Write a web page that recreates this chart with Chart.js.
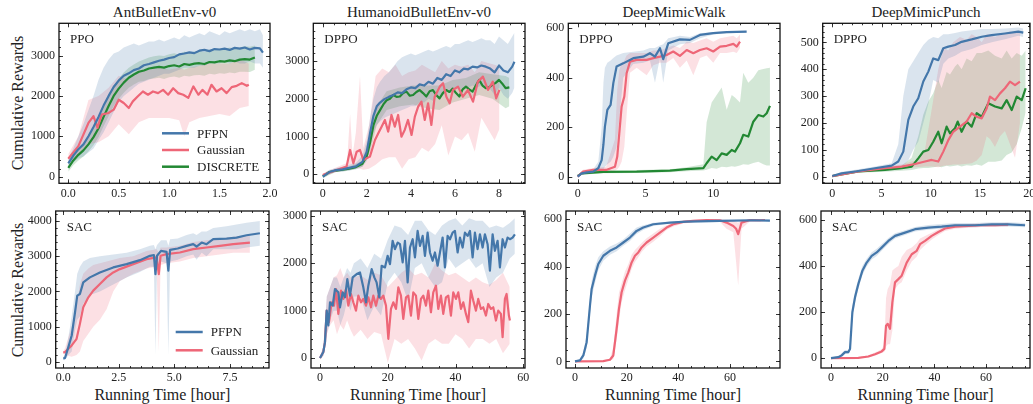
<!DOCTYPE html>
<html>
<head>
<meta charset="utf-8">
<script src="https://cdn.jsdelivr.net/npm/chart.js@4.4.0/dist/chart.umd.min.js"></script>
<style>
  body { margin: 0; background: #fff; width: 1033px; height: 404px; position: relative; overflow: hidden;
         font-family: "Liberation Serif", serif; color: #222; }
  canvas { position: absolute; left: 0; top: 0; }
  .t { position: absolute; white-space: nowrap; line-height: 1; transform: translate(-50%, -50%); }
  .title { font-size: 15px; }
  .xl { font-size: 16px; }
  .yl { font-size: 16px; transform: translate(-50%, -50%) rotate(-90deg); }
</style>
</head>
<body>
<div class="t title" style="left:164.5px;top:12px">AntBulletEnv-v0</div>
<div class="t title" style="left:419px;top:12px">HumanoidBulletEnv-v0</div>
<div class="t title" style="left:674px;top:12px">DeepMimicWalk</div>
<div class="t title" style="left:926px;top:12px">DeepMimicPunch</div>
<div class="t yl" style="left:18.4px;top:103.3px">Cumulative Rewards</div>
<div class="t yl" style="left:18.4px;top:289.5px">Cumulative Rewards</div>
<div class="t xl" style="left:162.4px;top:395.2px">Running Time [hour]</div>
<div class="t xl" style="left:418px;top:395.2px">Running Time [hour]</div>
<div class="t xl" style="left:673px;top:395.2px">Running Time [hour]</div>
<div class="t xl" style="left:925.5px;top:395.2px">Running Time [hour]</div>

<canvas id="c1" width="1033" height="404"></canvas>
<canvas id="c2" width="1033" height="404"></canvas>
<canvas id="c3" width="1033" height="404"></canvas>
<canvas id="c4" width="1033" height="404"></canvas>
<canvas id="c5" width="1033" height="404"></canvas>
<canvas id="c6" width="1033" height="404"></canvas>
<canvas id="c7" width="1033" height="404"></canvas>
<canvas id="c8" width="1033" height="404"></canvas>

<script>
// ---- AntBulletEnv-v0 / PPO ----
var antPpoPfpnX = [0,0.05,0.1,0.15,0.2,0.25,0.3,0.35,0.4,0.45,0.5,0.55,0.6,0.65,0.7,0.75,0.8,0.85,0.9,0.95,1.0,1.05,1.1,1.15,1.2,1.25,1.3,1.35,1.4,1.45,1.5,1.55,1.6,1.65,1.7,1.75,1.8,1.85,1.9,1.93];
var antPpoPfpn   = [330,520,680,800,1000,1230,1480,1760,2000,2220,2380,2500,2560,2640,2680,2760,2790,2830,2870,2900,2940,2960,3030,3050,3080,3060,3120,3140,3110,3160,3150,3170,3140,3190,3170,3200,3150,3190,3180,3070];
var antPpoPfpnHi = [450,700,1000,1300,1650,2000,2400,2700,2900,3050,3100,3200,3250,3300,3250,3300,3350,3350,3400,3350,3400,3450,3400,3500,3450,3500,3550,3500,3600,3550,3500,3600,3550,3600,3650,3600,3650,3600,3650,3500];
var antPpoPfpnLo = [200,350,450,500,600,700,900,1100,1350,1600,1850,2000,2100,2200,2300,2350,2400,2450,2500,2550,2550,2600,2650,2700,2700,2700,2750,2750,2800,2800,2800,2850,2800,2850,2800,2800,2850,2800,2800,2700];
var antPpoGaussX = [0,0.1,0.2,0.25,0.29,0.33,0.4,0.45,0.5,0.55,0.6,0.64,0.69,0.74,0.79,0.84,0.89,0.94,0.99,1.04,1.09,1.14,1.19,1.24,1.29,1.33,1.38,1.42,1.47,1.52,1.57,1.62,1.67,1.72,1.77,1.79];
var antPpoGauss  = [444,756,1330,1500,1208,1537,1578,1660,1906,1824,1700,1865,1990,2110,2030,2110,2070,2150,2030,2190,2070,2030,1950,2235,2030,2150,2030,2276,2110,2190,2070,2218,2250,2317,2250,2276];
var antPpoGaussBX = [0,0.1,0.2,0.3,0.4,0.5,0.6,0.7,0.8,0.9,1.0,1.1,1.15,1.2,1.3,1.4,1.5,1.6,1.7,1.79];
var antPpoGaussHi = [560,1000,1900,2000,2200,2500,2400,2650,2650,2700,2650,2700,2650,2700,2750,2800,2800,2800,2900,2800];
var antPpoGaussLo = [330,550,800,850,1000,1300,1050,1350,1450,1450,1450,1400,1000,1350,1450,1500,1550,1500,1700,1750];
var antPpoDiscX = [0,0.05,0.1,0.15,0.2,0.25,0.3,0.35,0.4,0.45,0.5,0.55,0.6,0.65,0.7,0.75,0.8,0.85,0.9,0.95,1.0,1.05,1.1,1.15,1.2,1.25,1.3,1.35,1.4,1.45,1.5,1.55,1.6,1.65,1.7,1.75,1.8,1.85];
var antPpoDisc   = [220,400,540,650,800,980,1200,1480,1750,2000,2180,2330,2450,2530,2600,2630,2680,2700,2720,2700,2740,2760,2730,2790,2770,2800,2810,2790,2840,2830,2860,2850,2880,2860,2900,2910,2900,2950];
var antPpoDiscHi = [330,520,680,800,980,1180,1420,1700,1980,2250,2430,2580,2700,2780,2850,2900,2950,2980,3000,2990,3030,3060,3020,3100,3060,3100,3120,3090,3150,3140,3170,3160,3200,3170,3200,3230,3220,3250];
var antPpoDiscLo = [120,280,400,500,620,780,980,1250,1500,1750,1930,2080,2200,2280,2350,2370,2420,2430,2450,2420,2460,2480,2450,2500,2480,2510,2520,2500,2550,2530,2560,2550,2580,2560,2600,2600,2590,2650];

// ---- HumanoidBulletEnv-v0 / DPPO ----
var humDppoPfpnX = [0,0.3,0.6,0.9,1.2,1.5,1.8,2.0,2.15,2.3,2.45,2.6,2.8,3.0,3.2,3.4,3.6,3.8,4.0,4.2,4.4,4.6,4.8,5.0,5.2,5.4,5.6,5.8,6.0,6.2,6.4,6.6,6.8,7.0,7.2,7.4,7.6,7.8,8.0,8.2,8.4,8.6,8.7];
var humDppoPfpn   = [-60,60,110,130,170,210,330,600,1100,1550,1800,1900,1990,2050,2100,2170,2150,2250,2300,2280,2380,2350,2450,2400,2550,2500,2650,2600,2750,2700,2800,2780,2850,2830,2880,2850,2800,2700,2880,2750,2700,2850,2980];
var humDppoPfpnHi = [0,120,170,200,250,300,500,900,1500,2000,2300,2450,2600,2700,2850,3000,3100,3150,3200,3150,3200,3250,3300,3250,3300,3350,3400,3350,3450,3450,3500,3550,3500,3550,3600,3550,3550,3450,3650,3550,3450,3650,3750];
var humDppoPfpnLo = [-120,0,60,70,100,130,200,350,700,1100,1300,1400,1500,1550,1600,1650,1700,1750,1800,1800,1900,1900,2000,1950,2100,2050,2200,2150,2300,2250,2300,2300,2350,2300,2350,2300,2250,2100,2300,2100,2000,2150,2300];
var humDppoGaussX = [0,0.63,1.08,1.24,1.39,1.54,1.69,1.84,2.14,2.37,2.52,2.67,2.82,2.97,3.12,3.27,3.42,3.57,3.72,3.87,4.03,4.18,4.33,4.48,4.63,4.78,4.93,5.08,5.31,5.46,5.61,5.76,5.91,6.14,6.36,6.59,6.82,7.04,7.27,7.5,7.72,7.87,8.02];
var humDppoGauss  = [-18,115,203,644,291,600,644,380,468,909,1085,1262,1439,1130,1571,1262,1571,997,1174,1439,1041,1527,1792,1924,1439,1880,1306,2056,2321,2410,2056,1880,2233,2321,2056,2233,1924,2454,2586,2233,2454,2012,2233];
var humDppoGaussBX = [0,0.6,1.1,1.24,1.35,1.5,1.69,1.84,2.1,2.4,2.7,3.0,3.3,3.6,3.9,4.2,4.5,4.8,5.1,5.4,5.7,6.0,6.3,6.6,6.9,7.2,7.5,7.8,8.02];
var humDppoGaussHi = [20,180,300,1600,500,1100,2600,700,1300,2600,2800,2700,2900,2600,2700,2750,2900,2800,2700,3000,2800,2900,2850,2900,2700,3000,2950,2900,2850];
var humDppoGaussLo = [-60,60,110,200,120,150,150,120,150,250,400,450,450,150,400,450,700,600,800,1300,500,1000,900,1100,600,1500,1200,900,1200];
var humDppoDiscX = [0,0.3,0.6,0.9,1.2,1.5,1.8,2.0,2.15,2.3,2.45,2.6,2.75,2.9,3.05,3.2,3.35,3.5,3.65,3.8,3.95,4.1,4.25,4.4,4.55,4.7,4.85,5.0,5.15,5.3,5.45,5.6,5.75,5.9,6.05,6.2,6.35,6.5,6.65,6.8,6.95,7.1,7.25,7.4,7.55,7.7,7.85,8.0,8.15,8.3,8.47];
var humDppoDisc   = [-50,60,100,120,150,190,280,480,850,1300,1550,1700,1850,1960,2000,2100,2050,2060,2150,2190,2080,2100,2180,2230,2150,2060,2200,2230,2100,2010,2150,2230,2180,2270,2150,2060,2250,2320,2250,2190,2350,2500,2350,2280,2300,2370,2420,2500,2400,2280,2300];
var humDppoDiscBX = [0,0.6,1.2,1.8,2.15,2.45,2.9,3.5,4.1,4.7,5.3,5.9,6.5,7.1,7.7,8.3,8.47];
var humDppoDiscHi = [0,140,200,350,1100,1800,2200,2300,2350,2350,2350,2500,2550,2700,2650,2600,2550];
var humDppoDiscLo = [-100,60,100,200,600,1300,1700,1800,1850,1750,1700,1900,2000,2100,2000,1750,1800];

// ---- DeepMimicWalk / DPPO ----
var walkDppoPfpnX = [0,0.29,0.7,1.15,1.52,1.77,1.9,2.01,2.19,2.43,2.63,2.87,3.36,4.1,4.84,5.33,5.7,6.07,6.31,6.68,7.54,8.28,9.02,10,10.99,12.46];
var walkDppoPfpn   = [0,13,17,20,34,67,130,202,270,290,378,445,458,479,485,499,485,519,475,539,555,553,573,580,584,586];
var walkDppoPfpnHi = [5,20,25,30,60,200,380,440,460,470,480,490,500,505,510,520,520,530,535,560,570,565,580,585,588,590];
var walkDppoPfpnLo = [-5,8,12,15,20,25,30,40,50,60,80,120,400,455,460,470,380,480,380,510,535,540,560,575,580,582];
var walkDppoGaussX = [0,0.4,1.15,2.1,2.75,2.92,3.07,3.24,3.44,3.61,3.86,4.35,5.09,5.58,6.07,6.56,7.05,7.54,8.04,8.53,9.02,9.51,10,10.5,10.99,11.48,11.73,11.97];
var walkDppoGauss  = [0,20,27,27,40,81,175,283,324,418,465,472,472,479,485,492,506,488,512,499,512,519,506,526,529,537,526,546];
var walkDppoGaussHi = [5,28,35,40,150,350,430,460,470,490,500,500,500,510,510,520,530,520,545,540,550,560,545,560,565,570,560,575];
var walkDppoGaussLo = [-5,12,20,20,25,30,40,60,120,250,420,440,410,450,460,460,480,440,470,410,480,490,460,500,500,505,500,520];
var walkDppoDiscX = [0,0.3,1.9,4.35,6.8,8.04,9.27,9.51,9.88,10.25,10.62,10.99,11.36,11.6,11.97,12.21,12.58,12.95,13.32,13.69,13.94,14.18];
var walkDppoDisc   = [3,13,19,20,24,30,34,54,81,67,94,88,108,101,135,169,162,222,249,243,256,286];
var walkDppoDiscHi = [5,18,25,27,30,38,50,220,300,330,360,270,330,320,300,420,380,400,430,435,438,440];
var walkDppoDiscLo = [0,8,14,15,18,22,25,28,35,32,40,38,42,40,45,50,48,55,60,50,45,45];

// ---- DeepMimicPunch / DPPO ----
var punchDppoPfpnX = [0,0.95,2.5,4.33,6.03,6.7,7.21,7.72,8.22,8.73,9.24,9.75,10.25,10.76,11.27,11.78,12.46,13.13,14.15,15.17,16.18,17.53,18.88,19.39];
var punchDppoPfpn   = [2,12,20,31,41,56,93,211,261,292,354,391,440,434,478,484,490,502,511,521,527,533,540,536];
var punchDppoPfpnHi = [5,18,26,38,50,120,300,400,430,460,490,510,520,515,530,530,535,540,545,550,550,552,555,552];
var punchDppoPfpnLo = [0,8,15,25,32,36,40,60,100,130,200,270,360,350,420,440,450,465,475,490,500,512,525,520];
var punchDppoGaussX = [0,2.64,5.35,7.05,8.4,9.41,10.09,10.76,11.27,11.78,12.28,12.96,13.64,14.15,14.66,15.17,15.67,16.01,16.52,17.03,17.53,18.04,18.55,19.05];
var punchDppoGauss  = [2,19,31,37,47,56,62,56,93,136,167,186,205,236,223,217,254,298,285,310,329,354,341,354];
var punchDppoGaussHi = [5,25,38,45,60,100,250,400,480,470,500,520,510,530,520,500,530,530,520,530,535,540,535,540];
var punchDppoGaussLo = [0,14,25,30,35,38,38,35,40,42,45,45,48,50,60,80,150,140,110,150,170,120,70,200];
var punchDppoDiscX = [0,2.64,5.35,7.05,8.06,8.73,9.24,9.75,10.25,10.76,11.1,11.61,11.95,12.46,12.73,13.13,13.64,14.15,14.66,15.17,15.84,16.52,17.2,17.7,18.21,18.72,19.23,19.63];
var punchDppoDisc   = [2,19,25,31,37,68,93,99,130,167,124,186,161,180,205,167,205,186,236,223,273,261,254,285,248,298,285,329];
var punchDppoDiscHi = [5,25,32,40,70,150,230,280,310,360,330,390,380,410,420,400,440,430,460,460,470,450,440,470,440,460,450,470];
var punchDppoDiscLo = [0,14,18,22,25,30,32,32,35,38,35,40,38,40,42,38,42,40,45,40,55,55,60,80,90,120,180,240];

// ---- AntBulletEnv-v0 / SAC ----
var antSacPfpnX = [0,0.08,0.23,0.38,0.53,0.63,0.75,0.9,1.2,1.65,2.25,2.85,3.45,3.9,4.08,4.15,4.22,4.4,4.65,4.73,4.81,5.15,5.55,5.85,6.0,6.23,6.45,6.75,7.35,7.8,8.25,8.85];
var antSacPfpn   = [100,113,424,753,1412,1882,1929,2259,2400,2541,2682,2776,2889,3012,3030,2494,3012,3153,3125,2588,3181,3219,3294,3341,3275,3388,3341,3482,3501,3529,3595,3652];
var antSacPfpnHi = [150,200,700,1300,2000,2500,2700,2850,2950,3000,3050,3100,3200,3300,3320,3200,3320,3450,3450,3300,3480,3500,3600,3650,3600,3700,3700,3800,3850,3900,3950,4000];
var antSacPfpnLo = [50,60,200,300,900,1200,1300,1650,1900,2000,2200,2400,2550,2700,2700,200,2700,2850,2800,200,2850,2900,3000,3050,2900,3100,3000,3200,3200,3200,3250,3300];
var antSacGaussX = [0,0.08,0.38,0.6,0.75,0.9,1.13,1.35,1.65,1.95,2.25,2.55,3.15,3.75,4.2,4.3,4.38,4.65,5.25,5.85,6.45,7.05,7.65,8.4];
var antSacGauss  = [270,282,470,659,1082,1553,1835,2024,2212,2400,2541,2635,2776,2918,2965,2494,3012,3059,3106,3200,3247,3294,3341,3388];
var antSacGaussHi = [300,400,1000,1600,2200,2500,2650,2750,2800,2850,2900,2950,3000,3150,3200,3100,3250,3250,3300,3400,3450,3500,3550,3600];
var antSacGaussLo = [240,200,150,200,300,600,800,1000,1200,1500,2000,2300,2500,2650,2700,300,2750,2800,2850,2950,3000,3050,3100,3100];

// ---- HumanoidBulletEnv-v0 / SAC ----
var humSacPfpnX = [0,0.98,1.47,1.97,2.46,2.95,3.74,4.42,5.41,5.9,6.69,7.37,8.06,8.85,9.64,10.82,11.8,12.78,13.57,14.26,15.24,16.03,16.7,17.5,18.19,19.17,19.96,20.65,21.43,22.12,22.91,23.6,24.39,25.07,25.86,26.55,27.34,28.02,28.81,29.5,30.29,30.97,31.76,32.45,33.24,33.92,34.71,35.4,36.19,36.87,37.66,38.35,39.14,39.82,40.61,41.3,42.09,42.77,43.56,44.25,45.04,45.72,46.51,47.2,47.99,48.67,49.46,50.15,50.94,51.62,52.41,53.1,53.89,54.57,55.36,56.05,56.84,57.52];
var humSacPfpn   = [0,126,336,1002,687,1178,1107,1458,1388,1072,1388,1283,1668,1318,1703,1773,1808,1493,1178,1528,1878,1703,1598,1283,1949,1913,2159,1984,2474,2299,2439,2404,2019,2474,1598,2334,2509,2124,2685,2369,2579,2159,2649,2229,2054,2229,1949,2229,2544,1913,2579,2509,2649,2685,2229,2544,2334,2649,2579,2685,2124,2649,2299,2614,2334,2614,2404,1843,2614,2264,2474,1913,2509,2334,2544,2509,2544,2614];
var humSacPfpnBX = [0,1,2,3,4,5,6,7,8,9,10,12,14,16,18,20,22,24,26,28,30,32,34,36,38,40,42,44,46,48,50,52,54,56,57.5];
var humSacPfpnHi = [30,250,1300,1500,1700,1700,1500,1700,1900,1800,2000,2100,1900,2200,2100,2500,2800,2750,2600,2900,2900,2700,2600,2800,2900,2950,2800,2950,2900,2900,2750,2800,2750,2850,2950];
var humSacPfpnLo = [-30,50,500,800,1000,1000,700,900,1200,1000,1300,1300,800,1100,900,1600,1800,1600,1200,1900,2000,1700,1500,1600,2100,1900,2000,2100,1900,2000,1500,1700,1800,2100,2200];
var humSacGaussX = [0,0.98,1.47,1.97,2.65,3.44,4.13,4.72,5.41,6.2,6.88,7.67,8.36,9.14,9.83,10.62,11.31,12.09,12.78,13.57,14.26,15.04,15.73,16.52,17.21,17.99,18.68,19.47,20.16,20.94,21.63,22.42,23.11,23.89,24.58,25.37,26.06,26.84,27.53,28.32,29.01,29.79,30.48,31.27,31.96,32.74,33.43,34.22,34.91,35.69,36.38,37.17,37.86,38.64,39.33,40.12,40.81,41.59,42.28,43.07,43.76,44.54,45.23,46.02,46.7,47.49,48.18,48.97,49.65,50.44,51.13,51.92,52.61,53.39,53.89,54.57,55.06,55.75,56.05];
var humSacGauss  = [0,126,336,1002,757,1178,1107,1458,932,1423,1248,1458,1107,1353,1178,1002,1318,1178,1248,1107,1283,1072,1318,1107,1318,1248,1318,1107,407,1037,1178,1037,1493,1318,827,1283,1318,897,1388,1318,827,1248,1318,1107,1423,967,1388,1528,1037,1318,932,1283,1318,897,1388,1248,1388,1037,1178,932,757,1423,1213,1002,1248,1037,1072,897,1142,1037,1072,792,1002,932,442,1248,1353,897,792];
var humSacGaussBX = [0,1,2,3,4,5,6,7,8,9,10,12,14,16,18,20,22,24,26,28,30,32,34,36,38,40,42,44,46,48,50,52,54,56];
var humSacGaussHi = [30,250,1300,1500,1700,1750,1900,1700,1800,1700,1700,1750,1650,1800,1750,1500,1650,1800,1900,1750,1800,1700,2000,1850,1750,1800,1700,1600,1700,1600,1550,1650,1800,1500];
var humSacGaussLo = [-30,50,500,700,800,500,700,600,800,600,450,600,400,550,500,-100,400,300,400,200,-50,300,400,300,300,500,400,200,400,400,300,400,100,300];

// ---- DeepMimicWalk / SAC ----
var walkSacPfpnX = [0,1.94,3.23,4.52,5.81,6.45,7.74,9.03,10.97,13.55,16.13,18.71,21.29,23.87,26.45,30.32,36.78,43.23,56.1,69.0,75.5];
var walkSacPfpn   = [0,4,25,81,236,306,362,411,446,467,481,502,523,551,565,579,586,590,593,596,594];
var walkSacPfpnHi = [3,10,40,110,270,340,400,440,465,485,498,515,540,565,575,585,590,594,597,599,598];
var walkSacPfpnLo = [-3,0,12,55,200,270,330,385,425,450,465,488,508,538,555,572,582,586,589,592,590];
var walkSacGaussX = [0,10.97,13.55,14.84,16.13,17.03,18.06,19.36,20.65,21.94,23.23,24.52,25.81,27.74,30.32,32.9,35.48,38.06,41.94,45.8,51,56.1,58.7,61.3,62.4,63.2,64.5,67.8,71.6,73.6];
var walkSacGauss  = [0,1,7,25,137,222,292,341,376,418,446,460,481,502,523,544,565,579,589,593,597,596,586,572,560,537,586,597,596,597];
var walkSacGaussHi = [2,4,12,60,200,290,330,380,410,450,470,485,500,520,540,560,575,588,596,598,600,600,598,595,590,585,598,600,600,600];
var walkSacGaussLo = [-2,0,3,10,90,170,250,300,345,390,420,440,462,485,505,528,555,570,582,588,593,590,560,545,420,320,560,592,590,594];

// ---- DeepMimicPunch / SAC ----
var punchSacPfpnX = [0,2.84,4.13,5.42,6.71,7.36,8.26,9.29,10.58,12.13,13.81,15.74,17.68,19.61,22.19,24.77,28.65,32.52,37.68,42.84,48.0,55.7,62.2,68.6,75.1];
var punchSacPfpn   = [0,4,12,26,26,40,199,264,322,379,415,444,459,480,509,531,545,560,567,571,577,577,581,581,577];
var punchSacPfpnHi = [3,10,20,35,35,55,230,290,345,400,432,460,475,495,522,542,555,570,578,582,587,587,590,590,587];
var punchSacPfpnLo = [-3,0,5,18,18,28,170,240,300,360,398,428,444,466,496,520,535,550,558,562,568,568,572,572,568];
var punchSacGaussX = [0,10.58,14.45,17.03,19.61,20.65,21.29,21.94,22.84,23.74,24.77,26.06,27.36,29.29,31.23,33.17,34.45,36.39,38.97,41.55,44.13,48.0,53.16,58.3,63.5,68.6];
var punchSacGauss  = [0,1,7,17,29,40,141,149,127,242,329,343,358,415,451,466,495,509,531,548,563,571,574,577,577,580];
var punchSacGaussHi = [2,4,12,24,38,60,260,300,320,380,390,400,440,470,480,500,520,530,545,560,572,580,582,585,585,588];
var punchSacGaussLo = [-2,0,3,10,22,28,50,60,60,120,300,320,330,380,420,440,470,490,515,535,552,562,566,569,569,572];

// tick labels
var ticksAntPpoX = [0,0.5,1.0,1.5,2.0];
var ticksHumDppoX = [0,2,4,6,8];
var ticksWalkDppoX = [0,5,10];
var ticksPunchDppoX = [0,5,10,15,20];
var ticksAntSacX = [0,2.5,5.0,7.5];
var ticksHoursX = [0,20,40,60];
var ticksAntY = [0,1000,2000,3000];
var ticksAntSacY = [0,1000,2000,3000,4000];
var ticksWalkY = [0,200,400,600];
var ticksPunchY = [0,100,200,300,400,500];

var BLUE = '#4477AA', PINK = '#EE6677', GREEN = '#228833';
var BLUE_BAND = 'rgba(68,119,170,0.2)', PINK_BAND = 'rgba(238,102,119,0.2)', GREEN_BAND = 'rgba(34,136,51,0.2)';

function pfpn(x, y, bx, lo, hi) { return {name: 'PFPN', color: BLUE, band: BLUE_BAND, x: x, y: y, bx: bx, lo: lo, hi: hi}; }
function gauss(x, y, bx, lo, hi) { return {name: 'Gaussian', color: PINK, band: PINK_BAND, x: x, y: y, bx: bx, lo: lo, hi: hi}; }
function disc(x, y, bx, lo, hi) { return {name: 'DISCRETE', color: GREEN, band: GREEN_BAND, x: x, y: y, bx: bx, lo: lo, hi: hi}; }

function pts(xs, ys) {
    return xs.map(function (v, i) { return {x: v, y: ys[i]}; });
}

// inward ticks on all four sides, the frame, the algorithm tag and the legend
var frameTicks = {
    id: 'frameTicks',
    afterDatasetsDraw: function (chart, args, o) {
        var ctx = chart.ctx, a = chart.chartArea;
        var xs = chart.scales.x, ys = chart.scales.y;
        ctx.save();
        ctx.strokeStyle = '#222';
        ctx.lineWidth = 0.9;
        ctx.beginPath();
        function vt(v, len) {
            var p = Math.round(xs.getPixelForValue(v)) + 0.5;
            if (p < a.left || p > a.right) return;
            ctx.moveTo(p, a.bottom); ctx.lineTo(p, a.bottom - len);
            ctx.moveTo(p, a.top); ctx.lineTo(p, a.top + len);
        }
        function ht(v, len) {
            var p = Math.round(ys.getPixelForValue(v)) + 0.5;
            if (p < a.top || p > a.bottom) return;
            ctx.moveTo(a.left, p); ctx.lineTo(a.left + len, p);
            ctx.moveTo(a.right, p); ctx.lineTo(a.right - len, p);
        }
        xs.ticks.forEach(function (t) { vt(t.value, 4); });
        ys.ticks.forEach(function (t) { ht(t.value, 4); });
        for (var k = Math.ceil(xs.min / o.xMinor); k * o.xMinor <= xs.max; k++) vt(k * o.xMinor, 2);
        for (var j = Math.ceil(ys.min / o.yMinor); j * o.yMinor <= ys.max; j++) ht(j * o.yMinor, 2);
        ctx.stroke();

        ctx.strokeStyle = '#111';
        ctx.lineWidth = 1.3;
        ctx.strokeRect(a.left, a.top, a.right - a.left, a.bottom - a.top);

        ctx.fillStyle = '#222';
        ctx.font = '13px "Liberation Serif"';
        ctx.textBaseline = 'alphabetic';
        ctx.fillText(o.tag, a.left + 11, a.top + 20);

        if (o.legend) {
            var L = o.legend;
            ctx.textBaseline = 'middle';
            L.items.forEach(function (it, i) {
                var yy = a.top + L.y + i * L.dy;
                ctx.strokeStyle = it.color;
                ctx.lineWidth = 2.5;
                ctx.beginPath();
                ctx.moveTo(a.left + L.x, yy);
                ctx.lineTo(a.left + L.x + 27, yy);
                ctx.stroke();
                ctx.fillText(it.name, a.left + L.x + 35, yy + 1);
            });
        }
        ctx.restore();
    }
};

function makePanel(id, p) {
    var datasets = [];
    p.series.forEach(function (s, i) {
        datasets.push({data: pts(s.bx, s.lo), borderWidth: 0, borderColor: 'rgba(0,0,0,0)', pointRadius: 0, fill: false, order: 10});
        datasets.push({data: pts(s.bx, s.hi), borderWidth: 0, borderColor: 'rgba(0,0,0,0)', pointRadius: 0, fill: '-1', backgroundColor: s.band, order: 10});
        datasets.push({label: s.name, data: pts(s.x, s.y), borderColor: s.color, borderWidth: 2.2, pointRadius: 0, fill: false, order: i});
    });
    var tickFont = {family: 'Liberation Serif', size: 12};
    var f = p.frame;
    new Chart(document.getElementById(id), {
        type: 'line',
        data: {datasets: datasets},
        options: {
            responsive: false,
            animation: false,
            devicePixelRatio: 1,
            layout: {padding: {left: f[0] - 40, top: f[1], right: 1033 - f[2], bottom: 404 - f[3] - 16}},
            elements: {line: {tension: 0, borderJoinStyle: 'round'}},
            plugins: {
                legend: {display: false},
                tooltip: {enabled: false},
                filler: {drawTime: 'beforeDatasetsDraw'},
                frameTicks: {xMinor: p.xMinor, yMinor: p.yMinor, tag: p.tag, legend: p.legend}
            },
            scales: {
                x: {
                    type: 'linear', min: p.xRange[0], max: p.xRange[1],
                    grid: {display: false, drawTicks: false}, border: {display: false},
                    ticks: {font: tickFont, color: '#222', padding: 3, maxRotation: 0, autoSkip: false,
                            callback: function (v) { return v.toFixed(p.xDec); }},
                    afterBuildTicks: function (s) { s.ticks = p.xTicks.map(function (v) { return {value: v}; }); },
                    afterFit: function (s) { s.height = 16; s.paddingLeft = 0; s.paddingRight = 0; }
                },
                y: {
                    type: 'linear', min: p.yRange[0], max: p.yRange[1],
                    grid: {display: false, drawTicks: false}, border: {display: false},
                    ticks: {font: tickFont, color: '#222', padding: 4, autoSkip: false,
                            callback: function (v) { return v.toFixed(0); }},
                    afterBuildTicks: function (s) { s.ticks = p.yTicks.map(function (v) { return {value: v}; }); },
                    afterFit: function (s) { s.width = 40; s.paddingTop = 0; s.paddingBottom = 0; }
                }
            }
        },
        plugins: [frameTicks]
    });
}

var legend3 = {x: 103, y: 110, dy: 16.7, items: [{name: 'PFPN', color: BLUE}, {name: 'Gaussian', color: PINK}, {name: 'DISCRETE', color: GREEN}]};
var legend2 = {x: 120, y: 121, dy: 18.3, items: [{name: 'PFPN', color: BLUE}, {name: 'Gaussian', color: PINK}]};

makePanel('c1', {frame: [59, 23.3, 270, 183.3], xRange: [-0.092, 2.0], yRange: [-165, 3799], xTicks: ticksAntPpoX, yTicks: ticksAntY,
    xDec: 1, xMinor: 0.1, yMinor: 200, tag: 'PPO', legend: legend3,
    series: [pfpn(antPpoPfpnX, antPpoPfpn, antPpoPfpnX, antPpoPfpnLo, antPpoPfpnHi),
             gauss(antPpoGaussX, antPpoGauss, antPpoGaussBX, antPpoGaussLo, antPpoGaussHi),
             disc(antPpoDiscX, antPpoDisc, antPpoDiscX, antPpoDiscLo, antPpoDiscHi)]});

makePanel('c2', {frame: [313.3, 23.3, 525, 183.3], xRange: [-0.43, 9.18], yRange: [-238, 3998], xTicks: ticksHumDppoX, yTicks: ticksAntY,
    xDec: 0, xMinor: 0.5, yMinor: 200, tag: 'DPPO',
    series: [pfpn(humDppoPfpnX, humDppoPfpn, humDppoPfpnX, humDppoPfpnLo, humDppoPfpnHi),
             gauss(humDppoGaussX, humDppoGauss, humDppoGaussBX, humDppoGaussLo, humDppoGaussHi),
             disc(humDppoDiscX, humDppoDisc, humDppoDiscBX, humDppoDiscLo, humDppoDiscHi)]});

makePanel('c3', {frame: [568.3, 23.3, 780, 183.3], xRange: [-0.69, 14.92], yRange: [-27, 620], xTicks: ticksWalkDppoX, yTicks: ticksWalkY,
    xDec: 0, xMinor: 1, yMinor: 50, tag: 'DPPO',
    series: [pfpn(walkDppoPfpnX, walkDppoPfpn, walkDppoPfpnX, walkDppoPfpnLo, walkDppoPfpnHi),
             gauss(walkDppoGaussX, walkDppoGauss, walkDppoGaussX, walkDppoGaussLo, walkDppoGaussHi),
             disc(walkDppoDiscX, walkDppoDisc, walkDppoDiscX, walkDppoDiscLo, walkDppoDiscHi)]});

makePanel('c4', {frame: [822.7, 23.3, 1030, 183.3], xRange: [-0.97, 20.07], yRange: [-25, 571], xTicks: ticksPunchDppoX, yTicks: ticksPunchY,
    xDec: 0, xMinor: 1, yMinor: 20, tag: 'DPPO',
    series: [pfpn(punchDppoPfpnX, punchDppoPfpn, punchDppoPfpnX, punchDppoPfpnLo, punchDppoPfpnHi),
             gauss(punchDppoGaussX, punchDppoGauss, punchDppoGaussX, punchDppoGaussLo, punchDppoGaussHi),
             disc(punchDppoDiscX, punchDppoDisc, punchDppoDiscX, punchDppoDiscLo, punchDppoDiscHi)]});

makePanel('c5', {frame: [55.7, 211, 269, 368], xRange: [-0.34, 9.26], yRange: [-169, 4282], xTicks: ticksAntSacX, yTicks: ticksAntSacY,
    xDec: 1, xMinor: 0.5, yMinor: 200, tag: 'SAC', legend: legend2,
    series: [pfpn(antSacPfpnX, antSacPfpn, antSacPfpnX, antSacPfpnLo, antSacPfpnHi),
             gauss(antSacGaussX, antSacGauss, antSacGaussX, antSacGaussLo, antSacGaussHi)]});

makePanel('c6', {frame: [311, 211, 525, 368], xRange: [-2.66, 60.5], yRange: [-210, 3105], xTicks: ticksHoursX, yTicks: ticksAntY,
    xDec: 0, xMinor: 5, yMinor: 200, tag: 'SAC',
    series: [pfpn(humSacPfpnX, humSacPfpn, humSacPfpnBX, humSacPfpnLo, humSacPfpnHi),
             gauss(humSacGaussX, humSacGauss, humSacGaussBX, humSacGaussLo, humSacGaussHi)]});

makePanel('c7', {frame: [566, 211, 780, 368], xRange: [-3.48, 79.4], yRange: [-28, 635], xTicks: ticksHoursX, yTicks: ticksWalkY,
    xDec: 0, xMinor: 5, yMinor: 50, tag: 'SAC',
    series: [pfpn(walkSacPfpnX, walkSacPfpn, walkSacPfpnX, walkSacPfpnLo, walkSacPfpnHi),
             gauss(walkSacGaussX, walkSacGauss, walkSacGaussX, walkSacGaussLo, walkSacGaussHi)]});

makePanel('c8', {frame: [821, 211, 1030, 368], xRange: [-3.87, 77.0], yRange: [-43, 639], xTicks: ticksHoursX, yTicks: ticksWalkY,
    xDec: 0, xMinor: 5, yMinor: 50, tag: 'SAC',
    series: [pfpn(punchSacPfpnX, punchSacPfpn, punchSacPfpnX, punchSacPfpnLo, punchSacPfpnHi),
             gauss(punchSacGaussX, punchSacGauss, punchSacGaussX, punchSacGaussLo, punchSacGaussHi)]});
</script>
</body>
</html>
